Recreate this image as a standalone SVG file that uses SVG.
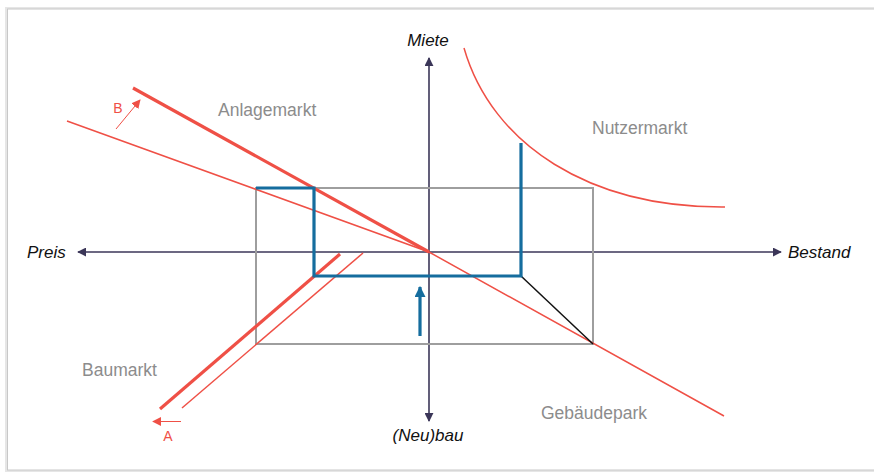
<svg xmlns="http://www.w3.org/2000/svg" width="874" height="474" viewBox="0 0 874 474">
<defs>
<style>
.ax{stroke:#3b3658;stroke-width:1.6;fill:none}
.axl{font-family:"Liberation Sans",Arial,sans-serif;font-style:italic;font-size:17px;fill:#111}
.ml{font-family:"Liberation Sans",Arial,sans-serif;font-size:17.5px;fill:#8c8c8c}
.rl{font-family:"Liberation Sans",Arial,sans-serif;font-size:14px;fill:#ef5046}
.thick{stroke:#ef5046;stroke-width:3.2;fill:none}
.thin{stroke:#ef5046;stroke-width:1.5;fill:none}
.blue{stroke:#156d9e;stroke-width:3.2;fill:none}
</style>
<marker id="ah" viewBox="0 0 10 10" refX="9" refY="5" markerWidth="9" markerHeight="9" markerUnits="userSpaceOnUse" orient="auto"><path d="M0,0 L10,5 L0,10 z" fill="#3b3658"/></marker>
<marker id="rh" viewBox="0 0 10 10" refX="9" refY="5" markerWidth="9" markerHeight="9" markerUnits="userSpaceOnUse" orient="auto"><path d="M0,0 L10,5 L0,10 z" fill="#ef5046"/></marker>
<marker id="bh" viewBox="0 0 10 10" refX="9" refY="5" markerWidth="11" markerHeight="11" markerUnits="userSpaceOnUse" orient="auto"><path d="M0,0 L10,5 L0,10 z" fill="#156d9e"/></marker>
</defs>
<rect x="0" y="0" width="874" height="474" fill="#ffffff"/>
<rect x="5" y="7" width="880" height="465" fill="#e6e6e6"/>
<rect x="7.5" y="9" width="880" height="461" fill="#ffffff" stroke="#c8c8c8" stroke-width="1"/>
<g id="connectors">
<line class="ax" x1="429" y1="252" x2="429" y2="58" marker-end="url(#ah)"/>
<line class="ax" x1="429" y1="252" x2="429" y2="421" marker-end="url(#ah)"/>
<line class="ax" x1="429" y1="252" x2="78" y2="252" marker-end="url(#ah)"/>
<line class="ax" x1="429" y1="252" x2="781" y2="252" marker-end="url(#ah)"/>
<rect x="256" y="188" width="337" height="156" fill="none" stroke="#9e9e9e" stroke-width="2"/>
<polyline class="thin" points="67,121 429,252 724,416"/>
<line class="thick" x1="133" y1="88" x2="429" y2="252"/>
<line class="thick" x1="160" y1="409" x2="340" y2="254"/>
<line class="thin" x1="182" y1="408" x2="363" y2="253"/>
<path class="thin" d="M464,48 C492,145 590,208 725,207"/>
<line x1="521" y1="276" x2="593" y2="344" stroke="#111" stroke-width="1.5"/>
<polyline class="blue" points="256,188 314,188 314,276 521,276 521,143"/>
<line class="blue" x1="420" y1="336" x2="420" y2="287" marker-end="url(#bh)"/>
<line x1="116" y1="129" x2="140" y2="100" stroke="#ef5046" stroke-width="1" marker-end="url(#rh)"/>
<line x1="181" y1="421.5" x2="153" y2="421.5" stroke="#ef5046" stroke-width="1" marker-end="url(#rh)"/>
</g>
<g id="axis-labels">
<text class="axl" x="428" y="46" text-anchor="middle">Miete</text>
<text class="axl" x="428" y="441" text-anchor="middle">(Neu)bau</text>
<text class="axl" x="27" y="258">Preis</text>
<text class="axl" x="788" y="258">Bestand</text>
</g>
<g id="Anlagemarkt"><text class="ml" x="218" y="116">Anlagemarkt</text></g>
<g id="Nutzermarkt"><text class="ml" x="592" y="134">Nutzermarkt</text></g>
<g id="Baumarkt"><text class="ml" x="82" y="376">Baumarkt</text></g>
<g id="Gebaeudepark"><text class="ml" x="541" y="419">Gebäudepark</text></g>
<g id="shift-labels">
<text class="rl" x="118" y="113" text-anchor="middle">B</text>
<text class="rl" x="168" y="441" text-anchor="middle">A</text>
</g>
</svg>
